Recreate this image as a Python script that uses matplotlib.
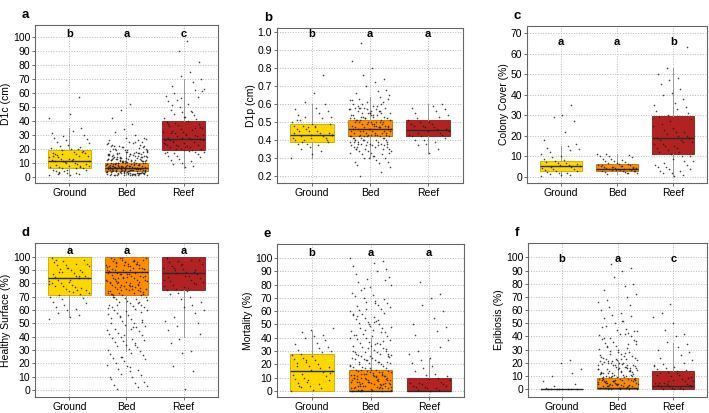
import numpy as np
import matplotlib
matplotlib.use('Agg')
from matplotlib import pyplot as plt

plt.rcParams['font.family'] = ['Liberation Sans', 'DejaVu Sans']

groups = ['Ground', 'Bed', 'Reef']
fills = ['#FFD700', '#FF8C00', '#B22222']
edges = ['#C9A800', '#C86E00', '#8A1A1A']

# box stats per panel: q1, median, q3, lower whisker, upper whisker (Ground, Bed, Reef)
a_q1 = [6.5, 4, 19]; a_med = [11.5, 6.5, 27]; a_q3 = [19, 9.5, 39.5]; a_lo = [0.5, 1, 6]; a_hi = [35, 17, 70]
b_q1 = [0.39, 0.42, 0.42]; b_med = [0.43, 0.46, 0.455]; b_q3 = [0.49, 0.51, 0.51]; b_lo = [0.30, 0.30, 0.33]; b_hi = [0.60, 0.64, 0.60]
c_q1 = [3, 3, 11]; c_med = [5.5, 4, 19]; c_q3 = [8, 6.5, 29.5]; c_lo = [0.5, 1.5, 0.5]; c_hi = [15, 11, 53]
d_q1 = [71.5, 71.5, 75]; d_med = [84, 89, 88]; d_q3 = [100, 100, 100]; d_lo = [55, 29, 40]; d_hi = [100, 100, 100]
e_q1 = [0, 0, 0]; e_med = [15, 0, 0]; e_q3 = [28, 16, 10]; e_lo = [0, 0, 0]; e_hi = [45, 40, 25]
f_q1 = [0, 0, 0]; f_med = [0, 0.5, 2.5]; f_q3 = [0, 8.5, 14]; f_lo = [0, 0, 0]; f_hi = [0, 21, 35]

a_ground = [1, 1.5, 2, 2, 3, 3, 4, 4, 5, 5, 6, 6, 7, 7, 7, 8, 8, 9, 9, 10, 10, 11, 11, 12, 12, 13, 13, 14, 14, 15,
            15, 16, 16, 17, 17, 18, 18, 19, 20, 21, 22, 23, 24, 25, 26, 27, 28, 29, 30, 31, 33, 35, 42, 45, 57,
            2.5, 4.5, 6.5, 8.5, 10.5, 12.5, 14.5, 16.5, 18.5, 20.5, 3.5, 7.5, 11.5, 15.5, 19.5]
a_bed = [1, 1, 1, 1.5, 1.5, 2, 2, 2, 2.5, 2.5, 3, 3, 3, 3.5, 3.5, 4, 4, 4, 4.5, 4.5, 5, 5, 5, 5.5, 5.5, 6, 6, 6,
         6.5, 6.5, 7, 7, 7, 7.5, 7.5, 8, 8, 8, 8.5, 9, 9, 9.5, 10, 10, 10.5, 11, 11, 11.5, 12, 12, 12.5, 13, 13,
         13.5, 14, 14, 14.5, 15, 15, 15.5, 16, 16, 16.5, 17, 17, 18, 18, 19, 19, 20, 20, 21, 21, 22, 22, 23, 24,
         25, 26, 27, 28, 30, 32, 34, 38, 42, 48, 52,
         1, 2, 3, 4, 5, 6, 7, 8, 9, 10, 11, 12, 13, 14, 15, 16, 17, 18, 19, 20, 21, 22, 23, 24, 25, 26,
         1.2, 2.2, 3.2, 4.2, 5.2, 6.2, 7.2, 8.2, 9.2, 10.2, 11.2, 12.2, 13.2, 14.2, 15.2, 16.2, 17.2, 18.2, 19.2,
         1.7, 2.7, 3.7, 4.7, 5.7, 6.7, 7.7, 8.7, 9.7, 10.7, 11.7, 12.7, 13.7, 14.7, 15.7, 16.7, 17.7, 18.7,
         1.4, 2.4, 3.4, 4.4, 5.4, 6.4, 7.4, 8.4, 9.4, 10.4, 11.4, 12.4, 13.4, 14.4, 15.4, 16.4, 20.4, 23.4,
         1.9, 2.9, 3.9, 4.9, 5.9, 6.9, 7.9, 8.9, 9.9, 10.9, 11.9, 12.9, 13.9, 14.9, 17.9, 21.9, 24.9, 27.5,
         1.1, 2.1, 3.1, 4.1, 5.1, 6.1, 7.1, 8.1, 9.1, 10.1, 11.1, 12.1, 13.1, 1.6, 2.6, 3.6, 4.6, 5.6, 6.6,
         7.6, 8.6, 9.6, 10.6, 11.6, 1.3, 2.3, 3.3, 4.3, 5.3, 6.3, 7.3, 8.3, 9.3, 1.8, 2.8, 3.8, 4.8, 5.8]
a_reef = [7, 8, 9, 10, 11, 12, 13, 14, 15, 15, 16, 17, 17, 18, 18, 19, 19, 20, 20, 21, 21, 22, 22, 23, 23, 24,
          24, 25, 25, 26, 26, 27, 27, 28, 28, 29, 29, 30, 30, 31, 32, 32, 33, 34, 35, 36, 37, 38, 39, 40, 41, 42,
          43, 44, 45, 46, 47, 48, 50, 52, 54, 55, 57, 58, 60, 62, 63, 65, 68, 70, 72, 75, 82, 90, 97,
          17.5, 19.5, 21.5, 23.5, 25.5, 27.5, 29.5, 31.5, 33.5, 35.5, 37.5, 18.5, 22.5, 26.5, 30.5, 34.5, 38.5,
          42.5, 46.5, 51, 56, 61]

b_ground = [0.30, 0.32, 0.34, 0.35, 0.36, 0.37, 0.38, 0.38, 0.39, 0.40, 0.40, 0.41, 0.41, 0.42, 0.42, 0.43, 0.43,
            0.44, 0.44, 0.45, 0.45, 0.46, 0.46, 0.47, 0.48, 0.48, 0.49, 0.50, 0.51, 0.52, 0.53, 0.54, 0.55, 0.56,
            0.57, 0.58, 0.60, 0.61, 0.66, 0.76, 0.39, 0.41, 0.43, 0.45, 0.47, 0.49, 0.51, 0.53, 0.40, 0.44, 0.48]
b_bed = [0.20, 0.22, 0.25, 0.26, 0.27, 0.28, 0.28, 0.29, 0.30, 0.30, 0.31, 0.32, 0.32, 0.33, 0.33, 0.34, 0.34,
         0.35, 0.35, 0.35, 0.36, 0.36, 0.36, 0.37, 0.37, 0.37, 0.38, 0.38, 0.38, 0.39, 0.39, 0.39, 0.40, 0.40,
         0.40, 0.40, 0.41, 0.41, 0.41, 0.42, 0.42, 0.42, 0.42, 0.43, 0.43, 0.43, 0.44, 0.44, 0.44, 0.45, 0.45,
         0.45, 0.45, 0.46, 0.46, 0.46, 0.47, 0.47, 0.47, 0.48, 0.48, 0.48, 0.49, 0.49, 0.49, 0.50, 0.50, 0.50,
         0.50, 0.51, 0.51, 0.52, 0.52, 0.52, 0.53, 0.53, 0.54, 0.54, 0.55, 0.55, 0.55, 0.56, 0.56, 0.57, 0.57,
         0.58, 0.58, 0.59, 0.60, 0.60, 0.61, 0.62, 0.63, 0.64, 0.65, 0.66, 0.67, 0.68, 0.70, 0.72, 0.74, 0.76,
         0.80, 0.84, 0.94,
         0.30, 0.34, 0.38, 0.42, 0.46, 0.50, 0.54, 0.58, 0.62, 0.31, 0.35, 0.39, 0.43, 0.47, 0.51, 0.55, 0.59,
         0.36, 0.37, 0.38, 0.39, 0.40, 0.41, 0.42, 0.43, 0.44, 0.45, 0.46, 0.47, 0.48, 0.49, 0.50, 0.51, 0.52,
         0.53, 0.54, 0.55, 0.56, 0.57, 0.58, 0.60, 0.33, 0.35, 0.37, 0.39, 0.41, 0.43, 0.45, 0.47, 0.49, 0.51,
         0.53, 0.55, 0.57, 0.59, 0.61, 0.63, 0.40, 0.42, 0.44, 0.46, 0.48, 0.50, 0.52, 0.54, 0.56, 0.58]
b_reef = [0.33, 0.35, 0.37, 0.38, 0.39, 0.40, 0.40, 0.41, 0.42, 0.42, 0.43, 0.43, 0.44, 0.44, 0.45, 0.45, 0.46,
          0.46, 0.47, 0.47, 0.48, 0.48, 0.49, 0.49, 0.50, 0.50, 0.51, 0.52, 0.53, 0.54, 0.55, 0.56, 0.57, 0.58,
          0.59, 0.60]

c_ground = [0.5, 1, 1, 1.5, 2, 2, 2.5, 3, 3, 3.5, 4, 4, 4.5, 5, 5, 5.5, 6, 6, 6.5, 7, 7, 7.5, 8, 8.5, 9, 9.5,
            10, 11, 12, 13, 13.5, 14, 15, 16, 18, 22, 27, 29, 30, 35]
c_bed = [1.5, 2, 2, 2.5, 2.5, 3, 3, 3, 3.5, 3.5, 3.5, 4, 4, 4, 4, 4.5, 4.5, 4.5, 5, 5, 5, 5.5, 5.5, 6, 6, 6.5,
         6.5, 7, 7, 7.5, 8, 8, 8.5, 9, 9, 9.5, 10, 10, 10.5, 11, 11, 2.2, 2.8, 3.2, 3.8, 4.2, 4.8, 5.2, 5.8]
c_reef = [0.5, 1, 2, 2, 3, 3, 4, 4, 5, 5, 6, 6, 7, 8, 8, 9, 10, 10, 11, 12, 12, 13, 14, 14, 15, 15, 16, 16, 17,
          17, 18, 18, 19, 19, 20, 20, 21, 22, 22, 23, 24, 25, 26, 27, 28, 29, 30, 31, 32, 33, 34, 35, 36, 38,
          40, 41, 43, 45, 47, 48, 50, 53, 63]

d_ground = [53, 55, 56, 58, 60, 61, 62, 64, 65, 66, 68, 69, 70, 71, 72, 73, 74, 75, 75, 76, 77, 78, 78, 79, 80,
            80, 81, 82, 83, 84, 84, 85, 86, 86, 87, 88, 89, 89, 90, 90, 91, 92, 93, 94, 94, 95, 96, 97, 98, 99,
            73.5, 76.5, 79.5, 82.5, 85.5, 88.5, 91.5, 94.5, 97.5]
d_bed = [1, 2, 3, 4, 5, 6, 8, 10, 11, 12, 14, 15, 16, 18, 19, 20, 22, 23, 24, 25, 26, 27, 28, 29, 30, 31, 32,
         33, 34, 35, 36, 37, 38, 39, 40, 41, 42, 43, 44, 45, 46, 47, 48, 49, 50, 51, 52, 53, 54, 55, 56, 57,
         58, 59, 60, 60, 61, 62, 62, 63, 64, 64, 65, 66, 66, 67, 68, 68, 69, 70, 70, 71, 72, 72, 73, 74, 74,
         75, 75, 76, 76, 77, 77, 78, 78, 79, 79, 80, 80, 81, 81, 82, 82, 83, 83, 84, 84, 85, 85, 86, 86, 87,
         87, 88, 88, 89, 89, 90, 90, 91, 91, 92, 92, 93, 93, 94, 94, 95, 95, 96, 96, 97, 97, 98, 98, 99, 99,
         71, 73, 76, 79, 82, 85, 88, 91, 94, 97, 72, 75, 78, 81, 84, 87, 90, 93, 96, 99,
         71.5, 72.5, 73.5, 74.5, 75.5, 76.5, 77.5, 78.5, 79.5, 80.5, 81.5, 82.5, 83.5, 84.5, 85.5, 86.5, 87.5,
         88.5, 89.5, 90.5, 91.5, 92.5, 93.5, 94.5, 95.5, 96.5, 97.5, 98.5, 99.5, 45.5, 50.5, 55.5, 58.5, 61.5,
         63.5, 65.5, 67.5, 69.5, 33.5, 37.5, 41.5, 47.5, 52.5, 24.5, 17.5, 9.5]
d_reef = [1, 14, 18, 28, 29, 35, 38, 42, 45, 48, 50, 52, 55, 58, 60, 62, 64, 66, 68, 70, 72, 73, 74, 75, 76, 77,
          78, 79, 80, 81, 82, 83, 84, 85, 86, 87, 88, 89, 90, 90, 91, 92, 93, 94, 95, 96, 97, 98, 99,
          76.5, 79.5, 82.5, 85.5, 88.5, 91.5, 94.5, 97.5]

e_ground = [0, 1, 2, 3, 4, 5, 6, 7, 8, 9, 10, 11, 12, 13, 14, 15, 16, 17, 18, 19, 20, 21, 22, 23, 24, 25, 26,
            27, 28, 29, 30, 31, 32, 33, 35, 36, 38, 40, 41, 42, 44, 46, 47, 3.5, 8.5, 13.5, 18.5, 23.5]
e_bed = [0, 0, 1, 1, 2, 2, 3, 3, 4, 4, 5, 5, 6, 6, 7, 7, 8, 8, 9, 9, 10, 10, 11, 11, 12, 12, 13, 13, 14, 14, 15,
         15, 16, 16, 17, 17, 18, 18, 19, 19, 20, 20, 21, 21, 22, 22, 23, 23, 24, 24, 25, 25, 26, 26, 27, 27, 28,
         28, 29, 29, 30, 30, 31, 32, 33, 34, 35, 36, 37, 38, 39, 40, 41, 42, 43, 44, 45, 46, 47, 48, 49, 50,
         51, 52, 53, 54, 55, 56, 57, 58, 59, 60, 61, 62, 63, 64, 65, 66, 67, 68, 69, 70, 72, 74, 76, 78, 80,
         82, 84, 86, 88, 90, 92, 94, 96, 98, 100,
         1, 3, 5, 7, 9, 11, 13, 15, 2, 4, 6, 8, 10, 12, 14, 16, 22, 26, 32, 36, 42, 46, 52, 58,
         0.5, 1.5, 2.5, 3.5, 4.5, 5.5, 6.5, 7.5, 8.5, 9.5, 10.5, 11.5, 12.5, 13.5, 14.5, 15.5, 17.5, 19.5,
         21.5, 23.5, 25.5, 27.5, 29.5, 31.5, 33.5, 35.5, 37.5, 39.5, 41.5, 44.5, 47.5, 50.5, 53.5, 56.5, 61.5,
         66.5, 71.5, 77.5, 83.5, 0.2, 1.2, 2.2, 3.2, 4.2, 5.2, 6.2, 7.2, 8.2, 9.2, 10.2, 11.2, 12.2]
e_reef = [0, 1, 1, 2, 2, 3, 3, 4, 4, 5, 5, 6, 6, 7, 8, 9, 10, 11, 12, 13, 15, 17, 19, 21, 23, 25, 28, 30, 33,
          38, 42, 45, 48, 50, 55, 60, 65, 70, 73, 82]

f_ground = [0, 0, 0, 0, 0, 0, 0, 0, 0, 1, 2, 4, 6, 10, 12, 15, 20, 22]
f_bed = [0, 0, 0, 1, 1, 1, 2, 2, 2, 3, 3, 3, 4, 4, 4, 5, 5, 5, 6, 6, 6, 7, 7, 7, 8, 8, 8, 9, 9, 10, 10, 11, 11,
         12, 12, 13, 13, 14, 14, 15, 15, 16, 16, 17, 17, 18, 18, 19, 19, 20, 20, 21, 21, 22, 22, 23, 23, 24,
         24, 25, 25, 26, 27, 28, 29, 30, 31, 32, 33, 34, 35, 36, 37, 38, 39, 40, 41, 42, 43, 44, 45, 46, 48,
         50, 52, 54, 56, 58, 60, 62, 64, 66, 68, 70, 72, 75, 78, 80, 85, 90, 92, 95,
         0, 1, 2, 3, 4, 5, 6, 7, 8, 9, 10, 12, 14, 16, 18, 0.5, 1.5, 2.5, 3.5, 4.5, 5.5, 6.5, 7.5,
         8.5, 9.5, 10.5, 11.5, 12.5, 13.5, 14.5, 15.5, 16.5, 17.5, 18.5, 19.5, 20.5, 21.5, 22.5, 24.5, 26.5,
         28.5, 30.5, 32.5, 34.5, 36.5, 38.5, 41.5, 44.5, 47.5, 51.5, 55.5, 0.2, 1.2, 2.2, 3.2, 4.2, 5.2, 6.2,
         7.2, 8.2, 9.2, 10.2, 11.2, 12.2, 13.2, 14.2, 15.2, 16.2, 18.2, 20.2, 23.2, 27.2]
f_reef = [0, 0, 0, 1, 1, 2, 2, 3, 3, 4, 4, 5, 5, 6, 6, 7, 8, 9, 10, 11, 12, 13, 14, 15, 16, 17, 18, 19, 20, 22,
          24, 26, 28, 30, 32, 34, 36, 40, 42, 45, 50, 55, 58, 65, 2.5, 4.5, 6.5, 8.5, 10.5, 12.5, 14.5, 17.5]

panels = [
    ('a', 'D1c (cm)', [a_q1, a_med, a_q3, a_lo, a_hi], [a_ground, a_bed, a_reef], ['b', 'a', 'c'],
     (-4.5, 108.5), np.arange(0, 101, 10), 102, [35, 25, 218, 183]),
    ('b', 'D1p (cm)', [b_q1, b_med, b_q3, b_lo, b_hi], [b_ground, b_bed, b_reef], ['b', 'a', 'a'],
     (0.161, 1.022), np.round(np.arange(0.2, 1.01, 0.1), 1), 0.99, [277, 28, 463, 183]),
    ('c', 'Colony Cover (%)', [c_q1, c_med, c_q3, c_lo, c_hi], [c_ground, c_bed, c_reef], ['a', 'a', 'b'],
     (-2.9, 73.4), np.arange(0, 71, 10), 65.5, [527, 26, 707, 183]),
    ('d', 'Healthy Surface (%)', [d_q1, d_med, d_q3, d_lo, d_hi], [d_ground, d_bed, d_reef], ['a', 'a', 'a'],
     (-5.2, 110.4), np.arange(0, 101, 10), 104.5, [35, 243, 218, 397]),
    ('e', 'Mortality (%)', [e_q1, e_med, e_q3, e_lo, e_hi], [e_ground, e_bed, e_reef], ['b', 'a', 'a'],
     (-4.4, 110.4), np.arange(0, 101, 10), 104, [277, 244, 464, 397]),
    ('f', 'Epibiosis (%)', [f_q1, f_med, f_q3, f_lo, f_hi], [f_ground, f_bed, f_reef], ['b', 'a', 'c'],
     (-6, 111), np.arange(0, 101, 10), 99, [528, 243, 707, 397]),
]

W, H = 709, 413
fig = plt.figure(figsize=(W / 100, H / 100), dpi=100)

for letter, ylab, stats, pts, sig, ylim, yticks, sig_y, box in panels:
    x0, y0, x1, y1 = box
    ax = fig.add_axes([x0 / W, 1 - y1 / H, (x1 - x0) / W, (y1 - y0) / H])
    q1, med, q3, lo, hi = stats
    bxp_stats = []
    for i in range(3):
        bxp_stats.append({'q1': q1[i], 'med': med[i], 'q3': q3[i], 'whislo': lo[i], 'whishi': hi[i], 'fliers': []})
    bp = ax.bxp(bxp_stats, positions=[1, 2, 3], widths=0.75, patch_artist=True, showcaps=False,
                whiskerprops={'color': '#9a9a9a', 'linewidth': 0.7},
                medianprops={'color': '#2a2a2a', 'linewidth': 1.0}, zorder=2)
    for patch, fc, ec in zip(bp['boxes'], fills, edges):
        patch.set_facecolor(fc)
        patch.set_edgecolor(ec)
        patch.set_linewidth(0.6)
    for i, vals in enumerate(pts):
        n = len(vals)
        order = (np.arange(n) * 0.618034 + 0.31 * i) % 1
        off = ((order * 7.3) % 1 - 0.5) * 0.72
        ax.scatter(i + 1 + off, vals, s=1.4, color='#1a1a1a', alpha=0.8, linewidths=0, zorder=3)
    for i, s in enumerate(sig):
        ax.text(i + 1, sig_y, s, ha='center', va='center', fontsize=8, fontweight='bold', zorder=4)
    ax.set_xlim(0.4, 3.6)
    ax.set_ylim(*ylim)
    ax.set_yticks(yticks)
    ax.set_xticks([1, 2, 3])
    ax.set_xticklabels(groups)
    ax.set_ylabel(ylab, fontsize=7.5, labelpad=1)
    ax.tick_params(labelsize=7.5, length=2.5, width=0.6, color='#555555', pad=1)
    ax.grid(True, linestyle=':', color='#bbbbbb', linewidth=0.7, zorder=0)
    ax.set_axisbelow(True)
    for sp in ax.spines.values():
        sp.set_color('#666666')
        sp.set_linewidth(0.8)
    fig.text((x0 - 13) / W, 1 - (y0 - 10) / H, letter, fontsize=9.5, fontweight='bold', ha='left', va='center')

fig.savefig('out.png', dpi=100)
